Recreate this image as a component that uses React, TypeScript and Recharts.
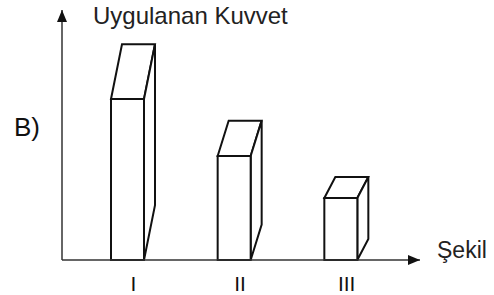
import { BarChart, Bar, XAxis, YAxis } from "recharts";

const sekiller = ["I", "II", "III"];
const kuvvet = [161, 104, 62];

const data = sekiller.map((s, i) => ({ sekil: s, kuvvet: kuvvet[i] }));

const FONT = '"Liberation Sans", Arial, sans-serif';

// 3D kutu: ön yüz + üst yüz + sağ yan
function Box(props: any) {
  const { x, y, width: w, height: h } = props;
  if (!h) return null;
  const dx = 11;
  const dy = h * 0.34;
  const top = `M${x},${y} L${x + dx},${y - dy} L${x + w + dx},${y - dy} L${x + w},${y} Z`;
  const side = `M${x + w},${y} L${x + w + dx},${y - dy} L${x + w + dx},${y + h - dy} L${x + w},${y + h} Z`;
  return (
    <g fill="#fff" stroke="#111" strokeWidth={2} strokeLinejoin="miter">
      <path d={top} />
      <path d={side} />
      <rect x={x} y={y} width={w} height={h} />
    </g>
  );
}

function Tick(props: any) {
  const { x, y, payload } = props;
  return (
    <text x={x + 6} y={y + 31} textAnchor="middle" fontFamily={FONT} fontSize={21} fill="#111">
      {payload.value}
    </text>
  );
}

export default function App() {
  return (
    <div style={{ position: "absolute", left: 0, top: 0, width: 494, height: 295, background: "#fff" }}>
      <svg width={0} height={0} style={{ position: "absolute" }}>
        <defs>
          <marker id="ok" viewBox="0 0 12 10" refX={12} refY={5} markerWidth={12} markerHeight={10}
            markerUnits="userSpaceOnUse" orient="auto-start-reverse">
            <path d="M0,0 L12,5 L0,10 Z" fill="#111" />
          </marker>
        </defs>
      </svg>
      <BarChart width={494} height={295} data={data} margin={{ top: 10, right: 74, left: 2, bottom: 0 }}>
        <XAxis
          dataKey="sekil"
          height={35}
          padding={{ left: 12, right: 26 }}
          axisLine={{ stroke: "#333", strokeWidth: 1.5, markerEnd: "url(#ok)" }}
          tickLine={false}
          tickSize={0}
          tickMargin={0}
          tick={<Tick />}
        />
        <YAxis
          width={60}
          domain={[0, 250]}
          tick={false}
          tickLine={false}
          axisLine={{ stroke: "#333", strokeWidth: 1.5, markerStart: "url(#ok)" }}
        />
        <Bar dataKey="kuvvet" barSize={33} shape={<Box />} isAnimationActive={false} />
      </BarChart>
      <svg width={494} height={295} style={{ position: "absolute", left: 0, top: 0, pointerEvents: "none" }}>
        <text x={93} y={24} fontFamily={FONT} fontSize={24} fill="#222">Uygulanan Kuvvet</text>
        <text x={14} y={136} fontFamily={FONT} fontSize={26} fill="#111">B)</text>
        <text x={437} y={258} fontFamily={FONT} fontSize={23} fill="#222">Şekil</text>
      </svg>
    </div>
  );
}
